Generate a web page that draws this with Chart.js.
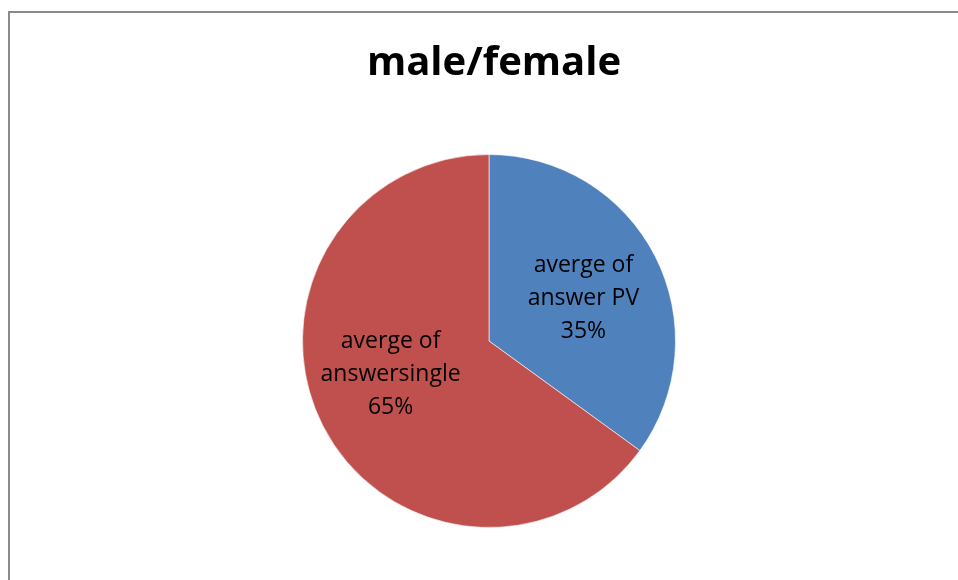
<!DOCTYPE html>
<html>
<head>
<meta charset="utf-8">
<script src="https://cdn.jsdelivr.net/npm/chart.js@4"></script>
<style>
  html, body { margin: 0; padding: 0; background: #fff; overflow: hidden; }
  #wrap { position: relative; width: 958px; height: 580px; }
  #frame {
    position: absolute; left: 8px; top: 11px; width: 1000px; height: 700px;
    border-left: 2px solid #8a8a8a; border-top: 2px solid #8a8a8a;
  }
  canvas { position: absolute; left: 0; top: 0; }
</style>
</head>
<body>
<div id="wrap">
  <div id="frame"></div>
  <canvas id="pie" width="958" height="580"></canvas>
</div>
<script>
const title = "male/female";
const categories = [["averge of", "answer PV"], ["averge of", "answersingle"]];
const shares = [35, 65];
const colors = ["#4f81bd", "#c0504d"];

const FONT = "'Open Sans', 'Noto Sans', sans-serif";

// title and the in-slice labels (best-fit nudges per slice)
const labelPlugin = {
  id: "sliceLabels",
  afterDraw(chart, args, opts) {
    const ctx = chart.ctx;
    ctx.save();
    ctx.fillStyle = "#000";
    ctx.textAlign = "center";
    ctx.textBaseline = "middle";
    ctx.font = "bold 40px " + FONT;
    ctx.fillText(title, 494, 64);

    ctx.font = "23px " + FONT;
    const meta = chart.getDatasetMeta(0);
    meta.data.forEach((arc, i) => {
      const p = arc.getProps(["x", "y", "startAngle", "endAngle", "outerRadius"]);
      const mid = (p.startAngle + p.endAngle) / 2;
      const r = p.outerRadius * 0.55;
      const nudge = opts.nudge[i] || [0, 0];
      const cx = p.x + Math.cos(mid) * r + nudge[0];
      const cy = p.y + Math.sin(mid) * r + nudge[1];
      const lines = [...categories[i], shares[i] + "%"];
      const lh = 33;
      lines.forEach((t, k) => {
        ctx.fillText(t, cx, cy + (k - (lines.length - 1) / 2) * lh);
      });
    });
    ctx.restore();
  },
};

new Chart(document.getElementById("pie"), {
  type: "pie",
  data: {
    labels: categories.map((c) => c.join(" ")),
    datasets: [{
      data: shares,
      backgroundColor: colors,
      borderColor: "rgba(255,255,255,0.6)",
      borderWidth: 1,
    }],
  },
  options: {
    responsive: false,
    animation: false,
    layout: { padding: { left: 302, right: 282, top: 154, bottom: 52 } },
    plugins: {
      legend: { display: false },
      tooltip: { enabled: false },
      sliceLabels: { nudge: [[3, 4], [-7, -13]] },
    },
  },
  plugins: [labelPlugin],
});
</script>
</body>
</html>
